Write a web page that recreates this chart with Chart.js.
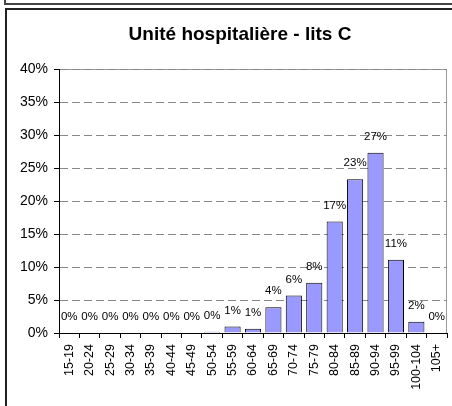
<!DOCTYPE html>
<html lang="fr">
<head>
  <meta charset="UTF-8">
  <title>Unité hospitalière - lits C</title>
  <style>
    body {
      margin: 0;
      background-color: #fff;
      overflow: hidden;
    }
    .cadre-haut {
      position: absolute;
      left: 4px;
      top: -20px;
      width: 500px;
      height: 21px;
      border: 2px solid #444;
    }
    .cadre {
      position: absolute;
      left: 5px;
      top: 8px;
      width: 500px;
      height: 500px;
      border-left: 2px solid #222;
      border-top: 2px solid #222;
    }
    canvas {
      position: absolute;
      left: 0;
      top: 0;
    }
  </style>
  <script src="https://cdn.jsdelivr.net/npm/chart.js"></script>
</head>
<body>
<div class="cadre-haut"></div>
<div class="cadre"></div>
<canvas id="litsChart" width="452" height="406"></canvas>

<script>
  // Tranches d'âge et répartition des patients (%)
  const tranches = ['15-19', '20-24', '25-29', '30-34', '35-39', '40-44', '45-49', '50-54', '55-59',
    '60-64', '65-69', '70-74', '75-79', '80-84', '85-89', '90-94', '95-99', '100-104', '105+'];
  const pourcentages = [0, 0, 0, 0, 0, 0, 0, 0.2, 1.0, 0.65, 3.9, 5.7, 7.6, 16.9, 23.3, 27.3, 11.1, 1.7, 0];
  const ticksY = [0, 5, 10, 15, 20, 25, 30, 35, 40];
  const titre = 'Unité hospitalière - lits C';

  const police = 'Liberation Sans, Arial, sans-serif';

  // Titre + cadre gris de la zone de traçage
  const cadrePlugin = {
    id: 'cadre',
    beforeDraw(chart) {
      const { ctx, chartArea } = chart;
      ctx.save();
      ctx.strokeStyle = '#999';
      ctx.lineWidth = 1;
      ctx.strokeRect(chartArea.left + 0.5, chartArea.top + 0.5,
        chartArea.right - chartArea.left - 1, chartArea.bottom - chartArea.top);
      ctx.font = 'bold 19px ' + police;
      ctx.fillStyle = '#000';
      ctx.textAlign = 'center';
      ctx.textBaseline = 'middle';
      ctx.fillText(titre, 240, 35);
      ctx.restore();
    }
  };

  // Étiquettes de valeurs au-dessus des barres
  const etiquettesPlugin = {
    id: 'etiquettes',
    afterDatasetsDraw(chart) {
      const { ctx } = chart;
      const meta = chart.getDatasetMeta(0);
      ctx.save();
      ctx.font = '11.5px ' + police;
      ctx.fillStyle = '#000';
      ctx.textAlign = 'center';
      ctx.textBaseline = 'middle';
      meta.data.forEach((barre, i) => {
        const texte = Math.round(pourcentages[i]) + '%';
        ctx.fillText(texte, barre.x, barre.y - 16);
      });
      ctx.restore();
    }
  };

  const ctx = document.getElementById('litsChart').getContext('2d');
  new Chart(ctx, {
    type: 'bar',
    data: {
      labels: tranches,
      datasets: [{
        data: pourcentages,
        backgroundColor: '#9999FF',
        borderColor: '#000',
        borderWidth: 1,
        barPercentage: 0.79,
        categoryPercentage: 1
      }]
    },
    options: {
      responsive: false,
      animation: false,
      devicePixelRatio: 1,
      layout: {
        autoPadding: false,
        padding: { left: 0, right: 5, top: 69, bottom: 0 }
      },
      plugins: {
        legend: { display: false },
        tooltip: { enabled: false },
        title: { display: false }
      },
      scales: {
        x: {
          afterFit: s => { s.height = 73; s.paddingLeft = 0; s.paddingRight = 0; },
          grid: {
            offset: true,
            drawOnChartArea: false,
            tickColor: '#000',
            tickLength: 5
          },
          border: { color: '#000', width: 1 },
          ticks: {
            color: '#000',
            font: { family: police, size: 12.5 },
            minRotation: 90,
            maxRotation: 90,
            autoSkip: false,
            padding: 6
          }
        },
        y: {
          min: 0,
          max: 40,
          afterFit: s => { s.width = 59; s.paddingTop = 0; s.paddingBottom = 0; },
          afterBuildTicks: s => { s.ticks = ticksY.map(v => ({ value: v })); },
          grid: {
            color: '#888',
            tickColor: '#000',
            tickLength: 5
          },
          border: { color: '#000', width: 1, dash: [8, 4] },
          ticks: {
            color: '#000',
            font: { family: police, size: 14 },
            padding: 6,
            callback: v => v + '%'
          }
        }
      }
    },
    plugins: [cadrePlugin, etiquettesPlugin]
  });
</script>
</body>
</html>
